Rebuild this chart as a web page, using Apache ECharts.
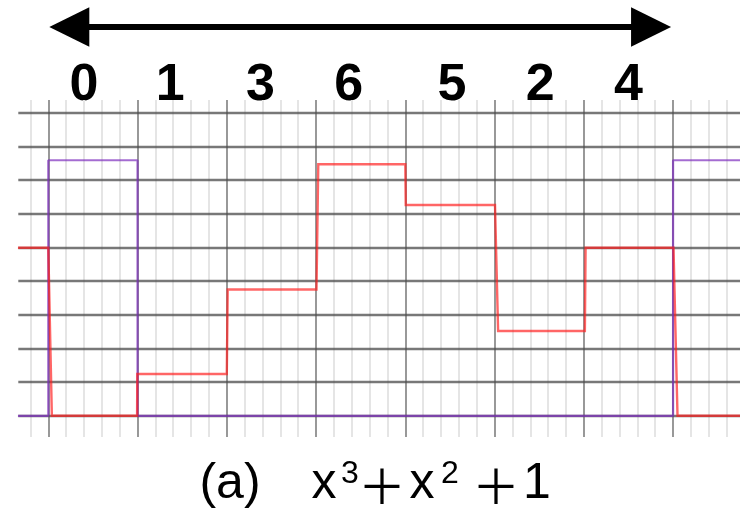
<!DOCTYPE html>
<html>
<head>
<meta charset="utf-8">
<script src="https://cdn.jsdelivr.net/npm/echarts@6/dist/echarts.min.js"></script>
<style>
  html, body { margin: 0; padding: 0; background: #ffffff; }
  #chart { width: 748px; height: 512px; }
</style>
</head>
<body>
<div id="chart"></div>
<script>
// Order of the slots written above the waveform
const slotLabels = ['0', '1', '3', '6', '5', '2', '4'];

// Purple trace: edge times (slot units) and the level held after each edge
const purpleTimes = [-0.34, 0, 1, 7, 7.75];
const purpleLevels = [0, 7.59, 0, 7.59, 7.59];

// Red trace: corner points of the staircase
const redTimes  = [-0.34, 0.0, 0.04, 0.995, 0.997, 2.0, 2.01, 3.005, 3.025, 4.0, 4.005, 5.005, 5.04, 6.012, 6.02, 7.005, 7.05, 7.75];
const redLevels = [4.99, 4.99, 0, 0, 1.24, 1.24, 3.75, 3.75, 7.47, 7.47, 6.26, 6.26, 2.52, 2.52, 4.99, 4.99, 0, 0];

// Grid rulings
const hLevels = [0, 1, 2, 3, 4, 5, 6, 7, 8, 9];
const majorTimes = [0, 1, 2, 3, 4, 5, 6, 7];

// Caption pieces
const captionLabel = '(a)';
const captionTerms = ['x', '3', '＋', 'x', '2', '＋', '1'];

const X_MIN = -0.336, X_MAX = 7.75;
const Y_MIN = -0.63, Y_MAX = 9.38;

const minorTimes = [];
for (let k = -1; k <= 38; k++) {
  if (k % 5 !== 0) minorTimes.push(+(k * 0.2).toFixed(2));
}

const chart = echarts.init(document.getElementById('chart'), null, { renderer: 'canvas' });

function rulingSeries(name, lines, style, z) {
  return {
    name: name,
    type: 'line',
    data: [[X_MIN, Y_MIN]],
    showSymbol: false,
    lineStyle: { opacity: 0 },
    silent: true,
    z: z,
    markLine: {
      z: z,
      silent: true,
      symbol: ['none', 'none'],
      label: { show: false },
      emphasis: { disabled: true },
      animation: false,
      lineStyle: Object.assign({ type: 'solid' }, style),
      data: lines
    }
  };
}

const purpleData = purpleTimes.map((t, i) => [t, purpleLevels[i]]);
const redData = redTimes.map((t, i) => [t, redLevels[i]]);

chart.setOption({
  animation: false,
  backgroundColor: '#ffffff',
  grid: { left: 18.3, right: 8, top: 100, bottom: 75 },
  xAxis: {
    type: 'value', min: X_MIN, max: X_MAX,
    axisLine: { show: false }, axisTick: { show: false },
    axisLabel: { show: false }, splitLine: { show: false }
  },
  yAxis: {
    type: 'value', min: Y_MIN, max: Y_MAX,
    axisLine: { show: false }, axisTick: { show: false },
    axisLabel: { show: false }, splitLine: { show: false }
  },
  series: [
    rulingSeries('minor', minorTimes.map(v => ({ xAxis: v })),
      { color: '#e5e5e5', width: 2 }, 1),
    rulingSeries('major', majorTimes.map(v => ({ xAxis: v })),
      { color: 'rgba(95,95,95,0.8)', width: 1.6 }, 2),
    rulingSeries('levels', hLevels.map(v => ({ yAxis: v })),
      { color: 'rgba(75,75,75,0.75)', width: 2.4 }, 3),
    {
      name: 'purple', type: 'line', step: 'end', data: purpleData,
      showSymbol: false, silent: true, z: 10,
      lineStyle: { color: 'rgba(125,45,190,0.7)', width: 2.2 }
    },
    {
      name: 'red', type: 'line', data: redData,
      showSymbol: false, silent: true, z: 11,
      lineStyle: { color: 'rgba(255,30,30,0.68)', width: 2.4, join: 'miter' }
    }
  ]
});

// Header: double-headed arrow spanning the slots, slot labels, caption
const x0 = chart.convertToPixel({ xAxisIndex: 0 }, 0);
const x7 = chart.convertToPixel({ xAxisIndex: 0 }, 7);
const arrowY = 27, headLen = 40, headHalf = 19.7;
const labelShift = [-9, -12, -11, -12, 2, 1, 0];

const graphics = [
  {
    type: 'rect', silent: true,
    shape: { x: x0 + headLen - 2, y: arrowY - 3, width: (x7 - x0) - 2 * headLen + 4, height: 6 },
    style: { fill: '#000' }
  },
  {
    type: 'polygon', silent: true,
    shape: { points: [[x0 + 1, arrowY], [x0 + 1 + headLen, arrowY - headHalf], [x0 + 1 + headLen, arrowY + headHalf]] },
    style: { fill: '#000' }
  },
  {
    type: 'polygon', silent: true,
    shape: { points: [[x7 - 2, arrowY], [x7 - 2 - headLen, arrowY - headHalf], [x7 - 2 - headLen, arrowY + headHalf]] },
    style: { fill: '#000' }
  }
];

slotLabels.forEach((lab, i) => {
  const cx = chart.convertToPixel({ xAxisIndex: 0 }, i + 0.5) + labelShift[i];
  graphics.push({
    type: 'text', silent: true, x: cx, y: 85.5,
    style: {
      text: lab, fill: '#000',
      font: 'bold 52px "Liberation Sans", Arial, sans-serif',
      align: 'center', verticalAlign: 'middle'
    }
  });
});

const capFont = '50px "Liberation Sans", Arial, sans-serif';
const supFont = '32px "Liberation Sans", Arial, sans-serif';
const plusFont = '48px "Noto Sans CJK JP", sans-serif';
graphics.push({
  type: 'text', silent: true, x: 230, y: 484,
  style: { text: captionLabel, fill: '#000', font: capFont, align: 'center', verticalAlign: 'middle' }
});
const termX = [324, 350, 382, 422, 450, 496, 537];
const termY = [484, 474, 486, 484, 474, 486, 484];
const termFont = [capFont, supFont, plusFont, capFont, supFont, plusFont, capFont];
captionTerms.forEach((t, i) => {
  graphics.push({
    type: 'text', silent: true, x: termX[i], y: termY[i],
    style: { text: t, fill: '#000', font: termFont[i], align: 'center', verticalAlign: 'middle' }
  });
});

chart.setOption({ graphic: graphics });
</script>
</body>
</html>
